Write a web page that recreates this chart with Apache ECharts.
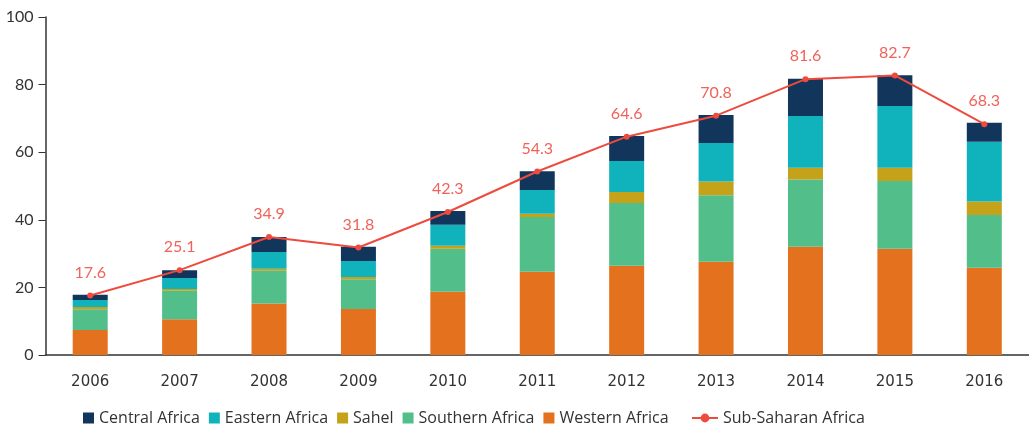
<!DOCTYPE html>
<html>
<head>
<meta charset="utf-8">
<script src="https://cdn.jsdelivr.net/npm/echarts@6/dist/echarts.min.js"></script>
<style>html,body{margin:0;padding:0;background:#fff}#c{width:1029px;height:428px}</style>
</head>
<body>
<div id="c"></div>
<script>
const years = ['2006','2007','2008','2009','2010','2011','2012','2013','2014','2015','2016'];
const western  = [7.4, 10.6, 15.2, 13.6, 18.7, 24.6, 26.4, 27.6, 32.0, 31.4, 25.8];
const southern = [6.1, 8.4, 9.7, 8.8, 12.7, 16.2, 18.6, 19.7, 19.9, 20.1, 15.6];
const sahel    = [0.7, 0.5, 0.6, 0.7, 0.9, 1.0, 3.2, 4.0, 3.5, 3.9, 4.0];
const eastern  = [2.1, 3.3, 5.0, 4.7, 6.2, 7.0, 9.2, 11.4, 15.3, 18.3, 17.7];
const central  = [1.5, 2.3, 4.4, 4.2, 4.1, 5.6, 7.4, 8.3, 11.0, 9.1, 5.6];
const total    = [17.6, 25.1, 34.9, 31.8, 42.3, 54.3, 64.6, 70.8, 81.6, 82.7, 68.3];
const yTicks = [0, 20, 40, 60, 80, 100];

const font = 'Lato, "Open Sans", sans-serif';
const legendFont = '"Open Sans", sans-serif';
const chart = echarts.init(document.getElementById('c'));
function bar(name, data, color){
  return {name, type:'bar', stack:'t', data, barWidth:35, itemStyle:{color}, emphasis:{disabled:true}};
}
chart.setOption({
  animation:false,
  textStyle:{fontFamily:font},
  grid:{left:45.5, right:-8, top:17, bottom:73},
  legend:[{
    bottom:-3, left:78, itemWidth:11, itemHeight:11, itemGap:9,
    textStyle:{fontFamily:legendFont, fontSize:16, color:'#333'},
    data:[
      {name:'Central Africa', icon:'rect'},
      {name:'Eastern Africa', icon:'rect'},
      {name:'Sahel', icon:'rect'},
      {name:'Southern Africa', icon:'rect'},
      {name:'Western Africa', icon:'rect'}
    ]
  },{
    bottom:-3, left:686, itemWidth:26, itemHeight:11,
    textStyle:{fontFamily:legendFont, fontSize:16, color:'#333'},
    data:[{name:'Sub-Saharan Africa'}]
  }],
  xAxis:{
    type:'category', data:years,
    axisLine:{lineStyle:{color:'#333', width:1.5}},
    axisTick:{length:14, lineStyle:{color:'#555', width:1.5}},
    axisLabel:{fontFamily:'"DejaVu Sans", sans-serif', fontSize:15, color:'#333', margin:20}
  },
  yAxis:{
    type:'value', min:0, max:100, interval:20,
    axisLine:{show:true, lineStyle:{color:'#333', width:1.5}},
    axisTick:{show:true, length:7, lineStyle:{color:'#333'}},
    splitLine:{show:false},
    axisLabel:{fontFamily:font, fontSize:16, color:'#333', margin:12,
      formatter:v=>yTicks.includes(v)?String(v):''}
  },
  series:[
    bar('Western Africa', western, '#e3711e'),
    bar('Southern Africa', southern, '#52be8a'),
    bar('Sahel', sahel, '#c4a21a'),
    bar('Eastern Africa', eastern, '#10b2bc'),
    bar('Central Africa', central, '#12355b'),
    {
      name:'Sub-Saharan Africa', type:'line', data:total,
      symbol:'circle', symbolSize:6,
      itemStyle:{color:'#ee4b3e'}, lineStyle:{color:'#ee4b3e', width:2},
      label:{show:true, position:'top', distance:12, color:'#f0625a',
        fontFamily:font, fontSize:16, formatter:p=>p.value.toFixed(1)},
      z:10
    }
  ]
});
</script>
</body>
</html>
